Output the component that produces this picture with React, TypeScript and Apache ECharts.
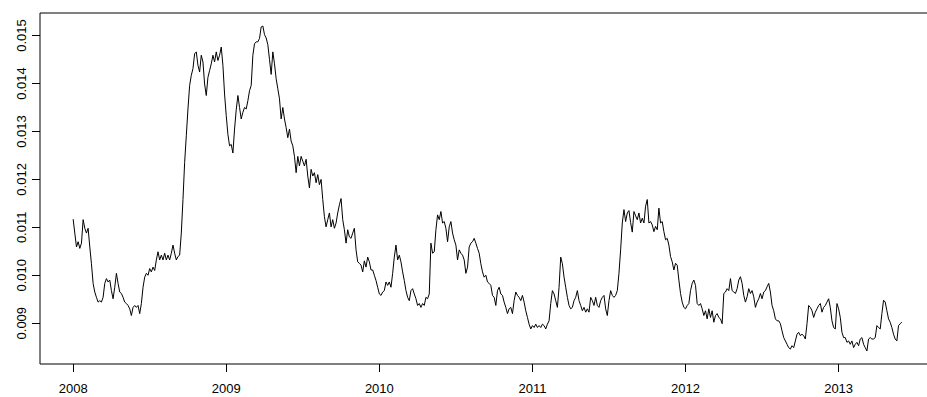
import React, { useEffect, useRef } from "react";
import * as echarts from "echarts";

// Regular time index: series starts at 2008.0, 92 observations per year
const startYear = 2008;
const obsPerYear = 92;

// Values, in units of 1e-4
const part1 = [
  111.7, 108.8, 105.9, 107.0, 105.6, 106.7, 111.6, 109.8, 108.8, 109.8,
  105.9, 102.4, 98.3, 96.5, 95.4, 94.4, 94.7, 94.4, 95.4, 98.3,
  99.3, 98.6, 99.0, 96.8, 95.1, 97.5, 100.4, 98.3, 96.5, 96.2,
  95.4, 94.4, 94.1, 93.7, 93.0, 91.6, 93.3, 93.7, 93.3, 93.7,
  92.0, 94.1, 97.5, 99.6, 100.4, 100.0, 101.4, 100.7, 101.7, 101.0,
  103.2, 104.9, 103.2, 104.2, 103.2, 104.6, 103.2, 104.2, 103.2, 104.6,
  106.3, 104.6, 103.2, 103.9, 104.2, 108.8, 115.8, 123.5, 129.1, 134.7,
  139.6, 141.7, 143.1, 146.2, 146.6, 143.8, 142.4, 145.9, 144.5, 139.9,
  137.5, 141.3, 142.7, 144.1,
];
const part2 = [
  145.9, 144.5, 146.6, 144.8, 145.9, 147.6, 143.8, 137.8, 133.3, 129.4,
  127.0, 127.3, 125.5, 130.5, 134.5, 137.5, 135.0, 132.6, 134.0, 135.0,
  134.7, 136.4, 138.5, 139.6, 145.9, 148.3, 148.7, 148.7, 149.4, 151.8,
  152.0, 150.2, 149.5, 148.1, 145.0, 141.9, 146.6, 144.1, 141.0, 138.9,
  136.8, 132.6, 135.0, 132.6, 130.8, 128.7, 130.5, 128.0, 127.0, 124.8,
  121.4, 124.8, 122.8, 124.8, 123.8, 122.8, 124.2, 120.7, 118.2, 122.1,
  120.7, 121.4, 119.3, 121.0, 118.9, 120.0, 115.8, 112.2, 110.1, 111.6,
  113.0, 110.1, 111.6, 109.8, 110.9, 113.0, 114.7, 116.0, 111.6, 109.5,
  106.7, 109.5, 108.0, 107.7, 108.8,
];
const part3 = [
  109.8, 105.3, 102.8, 102.5, 102.1, 100.7, 103.0, 101.7, 103.8, 102.8,
  101.1, 101.1, 100.0, 98.9, 97.5, 96.1, 95.8, 96.5, 96.8, 98.6,
  97.9, 98.6, 97.5, 100.4, 103.8, 106.3, 103.2, 104.2, 102.8, 100.7,
  98.9, 96.8, 95.4, 94.7, 96.8, 97.2, 96.1, 95.1, 93.7, 94.1,
  93.3, 94.1, 93.7, 95.4, 95.1, 96.1, 106.7, 104.6, 104.9, 109.5,
  112.6, 111.6, 113.3, 110.9, 111.2, 109.8, 107.0, 110.1, 111.2, 108.8,
  107.4, 106.3, 103.2, 105.3, 104.6, 104.2, 103.2, 100.4, 101.7, 105.9,
  106.7, 107.0, 107.7, 106.7, 105.6, 104.6, 102.4, 100.7, 99.6, 100.0,
  98.6, 98.3, 97.9, 95.8,
];
const part4 = [
  95.4, 93.7, 96.8, 97.5, 96.1, 95.8, 94.4, 93.3, 92.0, 93.0,
  93.3, 92.0, 94.7, 96.5, 95.8, 95.4, 94.7, 95.8, 94.4, 92.6,
  91.2, 89.8, 88.8, 89.5, 89.1, 89.8, 89.1, 89.5, 89.1, 89.8,
  89.5, 88.8, 89.8, 90.5, 94.1, 96.8, 96.1, 94.7, 93.3, 97.5,
  103.8, 102.4, 99.6, 97.5, 95.4, 93.7, 93.0, 93.3, 94.7, 95.4,
  96.8, 94.7, 93.7, 92.6, 93.3, 92.3, 93.0, 92.3, 95.4, 94.7,
  93.7, 95.4, 93.7, 93.3, 94.7, 95.4, 95.8, 93.0, 91.6, 94.7,
  96.8, 95.8, 95.4, 95.8, 96.8, 100.4, 105.3, 110.9, 113.7, 111.2,
  113.0, 113.5, 111.0, 109.0,
];
const part5 = [
  113.3, 112.4, 111.6, 113.0, 110.9, 111.9, 110.9, 114.4, 115.8, 110.9,
  111.2, 110.5, 109.1, 110.2, 109.5, 114.0, 110.9, 111.2, 109.1, 107.4,
  107.7, 106.3, 103.9, 102.8, 101.1, 102.5, 102.1, 99.0, 96.2, 94.4,
  93.3, 93.0, 93.7, 94.1, 96.8, 98.3, 99.0, 97.9, 94.1, 93.7,
  94.1, 93.0, 91.6, 92.6, 90.9, 93.0, 91.2, 92.6, 90.2, 91.6,
  92.0, 91.2, 90.9, 89.9, 96.2, 96.5, 97.2, 96.8, 99.3, 96.8,
  96.5, 96.2, 97.2, 99.0, 99.7, 98.3, 95.8, 94.4, 95.5, 97.2,
  96.2, 96.8, 95.5, 93.3, 94.4, 95.1, 96.2, 95.1, 96.5, 96.8,
  97.6, 98.3, 96.5, 93.7, 92.6, 90.9, 90.5, 90.5, 89.9, 88.4,
  87.0, 86.3, 85.6, 84.9, 84.6, 85.3, 84.9, 86.3, 87.7, 88.1,
  87.4, 87.7, 87.4, 86.7, 89.9, 93.7, 93.3, 92.6, 91.2, 92.3,
  93.0, 93.7, 94.1, 92.3, 93.3, 93.7, 94.4, 95.1, 93.3, 90.5,
  89.1, 88.8, 94.1, 93.0, 91.2, 88.1, 87.0, 87.0, 86.0, 86.3,
  85.6, 86.3, 84.9, 85.6, 86.0, 85.3, 86.7, 87.0, 85.6, 84.9,
  84.2, 86.7, 87.0, 86.7, 86.7, 87.0, 89.5, 89.1, 88.8, 92.0,
  94.8, 94.4, 92.6, 90.9, 90.2, 89.1, 87.7, 86.7, 86.3, 89.5,
  89.9, 90.2,
];

const xTickYears = [2008, 2009, 2010, 2011, 2012, 2013];
const yTickValues = [0.009, 0.01, 0.011, 0.012, 0.013, 0.014, 0.015];
const yTickLabels = ["0.009", "0.010", "0.011", "0.012", "0.013", "0.014", "0.015"];

const FONT = "'Liberation Sans', Arial, Helvetica, sans-serif";

export default function App() {
  const ref = useRef<HTMLDivElement>(null);

  useEffect(() => {
    document.documentElement.style.overflow = "hidden";
    document.body.style.margin = "0";
    document.body.style.overflow = "hidden";
    const el = ref.current;
    if (!el) return;
    const chart = echarts.init(el, null, { renderer: "svg" });

    const valuesE4 = [...part1, ...part2, ...part3, ...part4, ...part5];
    const data = valuesE4.map((v, i) => [startYear + i / obsPerYear, v / 10000]);
    const xs = data.map((d) => d[0]);
    const ys = data.map((d) => d[1]);
    const x0 = Math.min(...xs), x1 = Math.max(...xs);
    const y0 = Math.min(...ys), y1 = Math.max(...ys);
    const xp = (x1 - x0) * 0.04;
    const yp = (y1 - y0) * 0.04;

    chart.setOption({
      animation: false,
      backgroundColor: "#ffffff",
      grid: {
        left: 40,
        right: 15,
        top: 13,
        bottom: 33,
        show: true,
        borderColor: "#000",
        borderWidth: 1,
        backgroundColor: "transparent",
      },
      xAxis: {
        type: "value",
        min: x0 - xp,
        max: x1 + xp,
        axisLine: { show: false },
        splitLine: { show: false },
        axisTick: {
          show: true,
          length: 8,
          customValues: xTickYears,
          lineStyle: { color: "#000", width: 1 },
        },
        axisLabel: {
          customValues: xTickYears,
          margin: 18,
          color: "#000",
          fontSize: 13,
          fontFamily: FONT,
          formatter: (v: number) => String(Math.round(v)),
        },
      },
      yAxis: {
        type: "value",
        min: y0 - yp,
        max: y1 + yp,
        axisLine: { show: false },
        splitLine: { show: false },
        axisTick: {
          show: true,
          length: 8,
          customValues: yTickValues,
          lineStyle: { color: "#000", width: 1 },
        },
        axisLabel: {
          customValues: yTickValues,
          rotate: 90,
          margin: 12,
          color: "#000",
          fontSize: 13,
          fontFamily: FONT,
          formatter: (v: number) => {
            const idx = yTickValues.findIndex((t) => Math.abs(t - v) < 1e-9);
            return idx >= 0 ? yTickLabels[idx] : v.toFixed(3);
          },
        },
      },
      series: [
        {
          type: "line",
          data,
          showSymbol: false,
          symbol: "none",
          lineStyle: { color: "#000", width: 1 },
          silent: true,
        },
      ],
    });

    return () => {
      chart.dispose();
    };
  }, []);

  return (
    <div
      ref={ref}
      style={{ position: "fixed", left: 0, top: 0, width: 950, height: 397 }}
    />
  );
}
